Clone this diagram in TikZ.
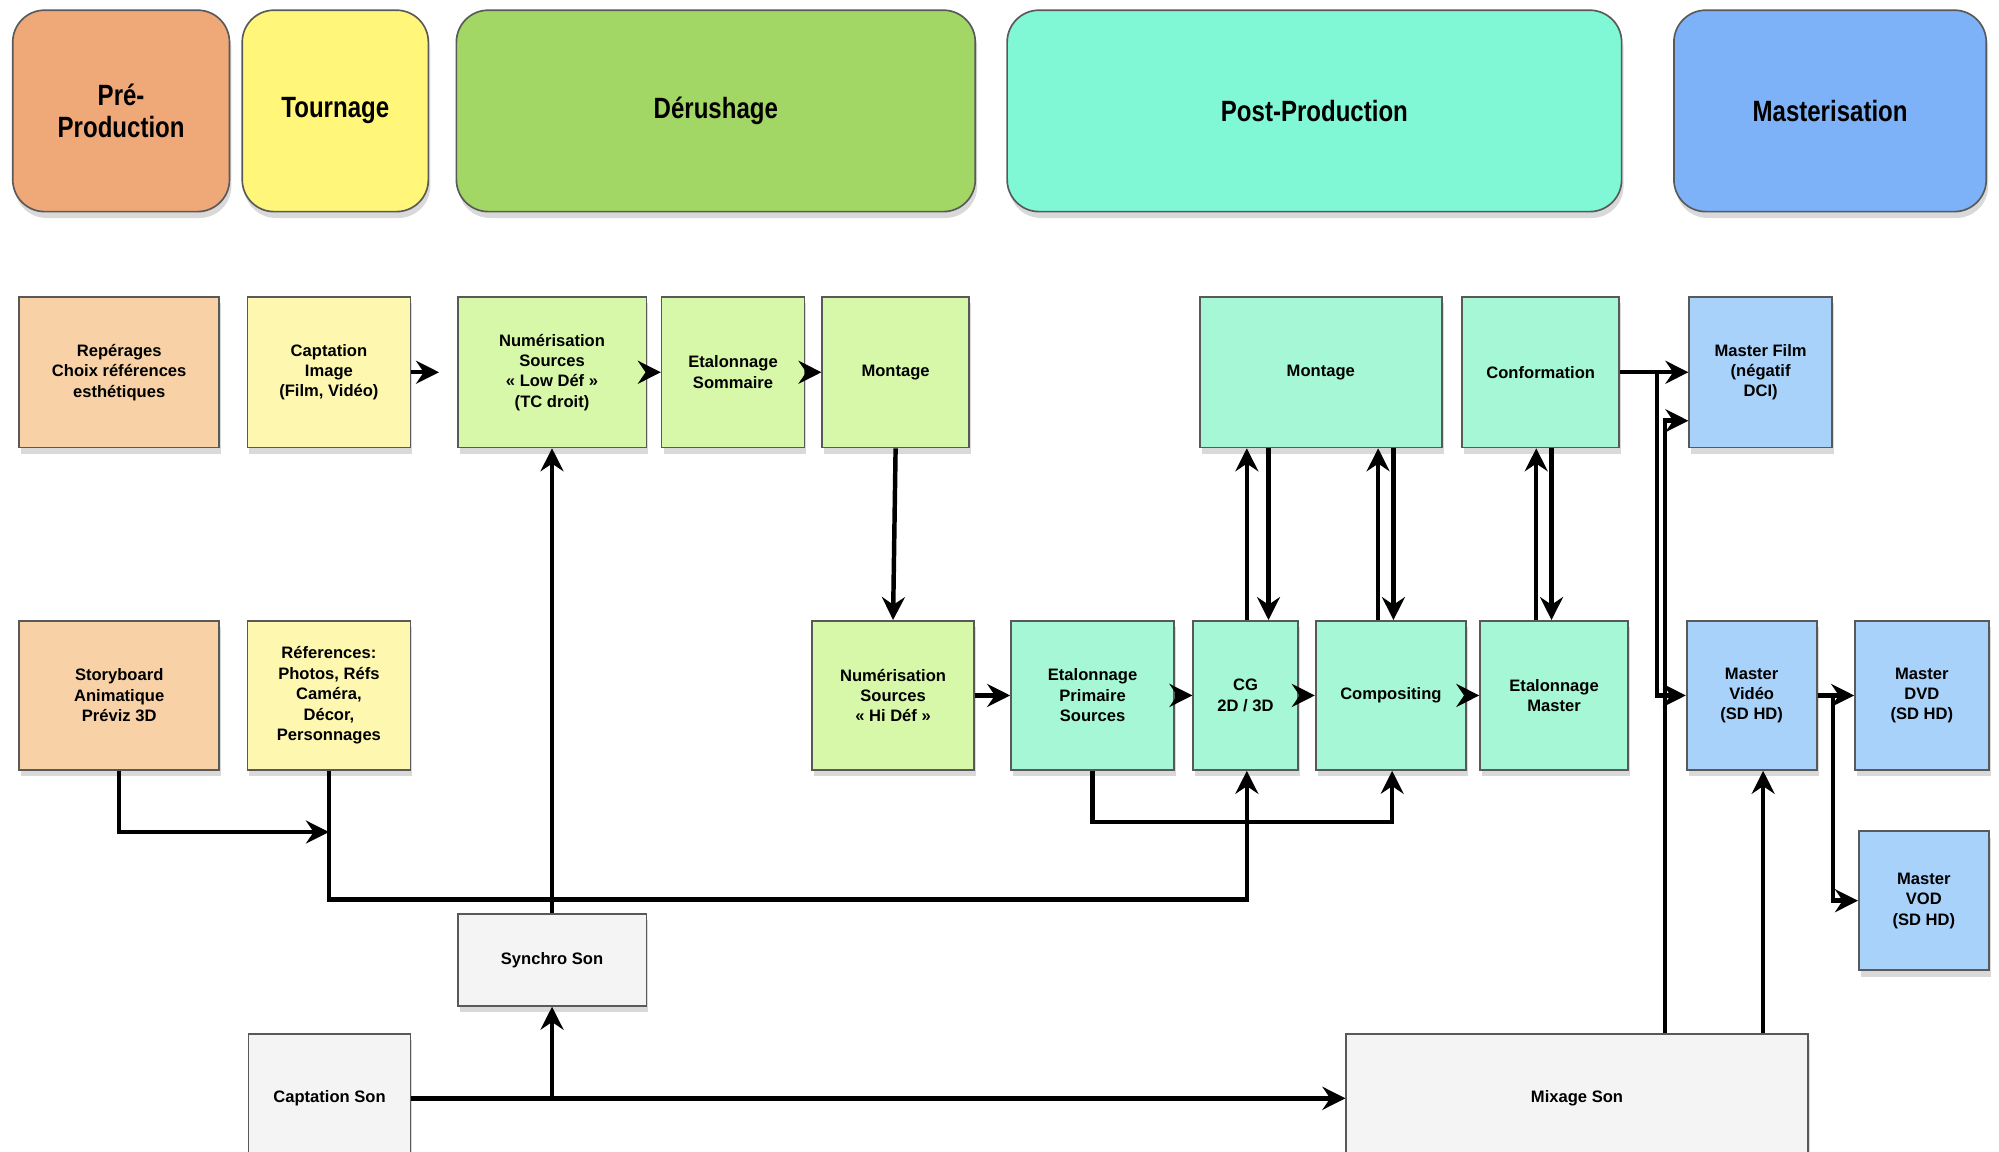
\documentclass[tikz,border=0pt]{standalone}
\usepackage{fontspec}
\setmainfont{Liberation Sans}
\newfontfamily\headfont{Liberation Sans}[FakeStretch=0.82]
\usetikzlibrary{arrows.meta,shadows}

\definecolor{prehead}{HTML}{EFA878}
\definecolor{prebox}{HTML}{F8D2A6}
\definecolor{tourhead}{HTML}{FFF67A}
\definecolor{tourbox}{HTML}{FDF7B0}
\definecolor{derhead}{HTML}{A2D665}
\definecolor{derbox}{HTML}{D6F8A8}
\definecolor{posthead}{HTML}{80F7D5}
\definecolor{postbox}{HTML}{A6F7D5}
\definecolor{masthead}{HTML}{7DB2F8}
\definecolor{mastbox}{HTML}{A8D2FA}
\definecolor{sonbox}{HTML}{F4F4F4}

\tikzstyle{every node}=[draw=black!65,line width=1.3pt,align=center,inner sep=2pt,
    font=\bfseries\fontsize{13}{16}\selectfont,
    drop shadow={shadow xshift=1.5pt,shadow yshift=-5pt,opacity=0.3}]
\tikzstyle{phase}=[rounded corners=25pt,minimum height=158pt,
    font=\headfont\bfseries\fontsize{23}{25}\selectfont]
\tikzstyle{rowone}=[minimum height=118pt]
\tikzstyle{rowtwo}=[minimum height=117pt]
\tikzstyle{link}=[line width=3.5pt,-{Stealth[length=18pt,width=18pt,inset=6pt]}]

\begin{document}
\begin{tikzpicture}[x=1pt,y=-1pt]
    \useasboundingbox (0,0) rectangle (1568,903.6);
    % phases
    \node[phase,fill=prehead,minimum width=170pt] (hpre) at (95,87) {Pré-\\Production};
    \node[phase,fill=tourhead,minimum width=146pt] (htour) at (263,87) {Tournage};
    \node[phase,fill=derhead,minimum width=407pt] (hder) at (561.5,87) {Dérushage};
    \node[phase,fill=posthead,minimum width=482pt] (hpost) at (1031,87) {Post-Production};
    \node[phase,fill=masthead,minimum width=245pt] (hmast) at (1435.5,87) {Masterisation};
    % premiere ligne
    \node[rowone,fill=prebox,minimum width=157pt] (rep) at (93.5,292) {Repérages\\Choix références\\esthétiques};
    \node[rowone,fill=tourbox,minimum width=128pt] (capimg) at (258,292) {Captation\\Image\\(Film, Vidéo)};
    \node[rowone,fill=derbox,minimum width=148pt] (numlow) at (433,292) {Numérisation\\Sources\\« Low Déf »\\(TC droit)};
    \node[rowone,fill=derbox,minimum width=112pt] (etsom) at (575,292) {Etalonnage\\Sommaire};
    \node[rowone,fill=derbox,minimum width=115pt] (mont1) at (702.5,292) {Montage};
    \node[rowone,fill=postbox,minimum width=190pt] (mont2) at (1036,292) {Montage};
    \node[rowone,fill=postbox,minimum width=123pt] (conf) at (1208.5,292) {Conformation};
    \node[rowone,fill=mastbox,minimum width=112pt] (mfilm) at (1381,292) {Master Film\\(négatif\\DCI)};
    % deuxieme ligne
    \node[rowtwo,fill=prebox,minimum width=157pt] (story) at (93.5,545.5) {Storyboard\\Animatique\\Préviz 3D};
    \node[rowtwo,fill=tourbox,minimum width=128pt] (refs) at (258,545.5) {Réferences:\\Photos, Réfs\\Caméra,\\Décor,\\Personnages};
    \node[rowtwo,fill=derbox,minimum width=127pt] (numhi) at (700.5,545.5) {Numérisation\\Sources\\« Hi Déf »};
    \node[rowtwo,fill=postbox,minimum width=128pt] (etprim) at (857,545.5) {Etalonnage\\Primaire\\Sources};
    \node[rowtwo,fill=postbox,minimum width=82pt] (cg) at (977,545.5) {CG\\2D / 3D};
    \node[rowtwo,fill=postbox,minimum width=118pt] (comp) at (1091,545.5) {Compositing};
    \node[rowtwo,fill=postbox,minimum width=116pt] (etmast) at (1219,545.5) {Etalonnage\\Master};
    \node[rowtwo,fill=mastbox,minimum width=102pt] (mvid) at (1374,545.5) {Master\\Vidéo\\(SD HD)};
    \node[rowtwo,fill=mastbox,minimum width=105pt] (mdvd) at (1507.5,545.5) {Master\\DVD\\(SD HD)};
    \node[fill=mastbox,minimum width=102pt,minimum height=109pt] (mvod) at (1509,706.5) {Master\\VOD\\(SD HD)};
    % son
    \node[fill=sonbox,minimum width=148pt,minimum height=72pt] (synchro) at (433,753) {Synchro Son};
    \node[fill=sonbox,minimum width=127pt,minimum height=101pt] (capson) at (258.5,861.5) {Captation Son};
    \node[fill=sonbox,minimum width=362pt,minimum height=101pt] (mixage) at (1237,861.5) {Mixage Son};

    % derushage
    \draw[link,shorten >=14pt] (capimg) -- (numlow);
    \draw[link] (numlow) -- (etsom);
    \draw[link] (etsom) -- (mont1);
    \draw[link] (mont1.south) -- (numhi.north);
    % post-production
    \draw[link] (numhi) -- (etprim);
    \draw[link] (etprim) -- (cg);
    \draw[link] (cg) -- (comp);
    \draw[link] (comp) -- (etmast);
    \draw[link] ([xshift=1pt]cg.north) -- ([xshift=1pt]cg.north |- mont2.south);
    \draw[link] ([xshift=18pt]cg.north |- mont2.south) -- ([xshift=18pt]cg.north);
    \draw[link] ([xshift=-10pt]comp.north) -- ([xshift=-10pt]comp.north |- mont2.south);
    \draw[link] ([xshift=2pt]comp.north |- mont2.south) -- ([xshift=2pt]comp.north);
    \draw[link] ([xshift=-14pt]etmast.north) -- ([xshift=-14pt]etmast.north |- conf.south);
    \draw[link] ([xshift=-2pt]etmast.north |- conf.south) -- ([xshift=-2pt]etmast.north);
    % masterisation
    \draw[link] (conf) -- (mfilm);
    \draw[link] (conf.east) -- ++(29,0) |- (mvid.west);
    \draw[link] ([xshift=69pt]mixage.north) |- ([yshift=-38pt]mfilm.west);
    \draw[link] ([xshift=146pt]mixage.north) -- ([xshift=146pt]mixage.north |- mvid.south);
    \draw[link] (mvid) -- (mdvd);
    \draw[link] (mvid.east) -- ++(12,0) |- (mvod.west);
    % son
    \draw[link] (capson) -- (mixage);
    \draw[link] (capson.east -| synchro.south) -- (synchro.south);
    \draw[link] (synchro) -- (numlow);
    % references
    \draw[link] (story.south) |- ([yshift=-48pt]refs.south);
    \draw[link] (refs.south) -- ++(0,101) -| ([xshift=1pt]cg.south);
    \draw[link] (etprim.south) -- ++(0,40) -| ([xshift=1pt]comp.south);
\end{tikzpicture}
\end{document}
